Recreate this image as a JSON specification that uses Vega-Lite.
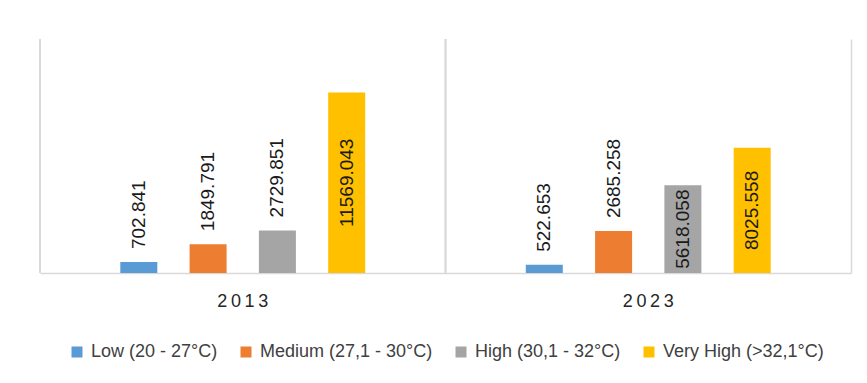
{
  "$schema": "https://vega.github.io/schema/vega-lite/v6.json",
  "width": 811,
  "height": 234,
  "padding": {"left": 39, "top": 38, "right": 5, "bottom": 5},
  "background": "white",
  "config": {"view": {"stroke": null}, "font": "Liberation Sans"},
  "data": {
    "values": [
      {"year": "2013", "category": "Low (20 - 27°C)", "value": 702.841},
      {"year": "2013", "category": "Medium (27,1 - 30°C)", "value": 1849.791},
      {"year": "2013", "category": "High (30,1 - 32°C)", "value": 2729.851},
      {"year": "2013", "category": "Very High (>32,1°C)", "value": 11569.043},
      {"year": "2023", "category": "Low (20 - 27°C)", "value": 522.653},
      {"year": "2023", "category": "Medium (27,1 - 30°C)", "value": 2685.258},
      {"year": "2023", "category": "High (30,1 - 32°C)", "value": 5618.058},
      {"year": "2023", "category": "Very High (>32,1°C)", "value": 8025.558}
    ]
  },
  "encoding": {
    "x": {
      "field": "year",
      "type": "nominal",
      "scale": {"paddingInner": 0.0543, "paddingOuter": 0.02715},
      "axis": {
        "title": null,
        "grid": false,
        "ticks": false,
        "labelAngle": 0,
        "labelFontSize": 18,
        "labelColor": "#262626",
        "labelPadding": 19,
        "domainColor": "#d9d9d9",
        "domainWidth": 1.5,
        "labelExpr": "join(split(datum.label, ''), '\u2009')"
      }
    },
    "xOffset": {
      "field": "category",
      "type": "nominal",
      "sort": ["Low (20 - 27°C)", "Medium (27,1 - 30°C)", "High (30,1 - 32°C)", "Very High (>32,1°C)"],
      "scale": {"paddingInner": 0.466, "paddingOuter": 1}
    }
  },
  "layer": [
    {
      "mark": {"type": "rule", "color": "#d9d9d9", "strokeWidth": 1.5},
      "encoding": {
        "x": {"field": "year", "type": "nominal", "bandPosition": -0.0287},
        "xOffset": null
      }
    },
    {
      "mark": {"type": "bar"},
      "encoding": {
        "y": {
          "field": "value",
          "type": "quantitative",
          "scale": {"domain": [0, 15000], "nice": false},
          "axis": {
            "orient": "right",
            "title": null,
            "labels": false,
            "ticks": false,
            "grid": false,
            "domain": true,
            "domainColor": "#d9d9d9",
            "domainWidth": 1.5
          }
        },
        "color": {
          "field": "category",
          "type": "nominal",
          "sort": ["Low (20 - 27°C)", "Medium (27,1 - 30°C)", "High (30,1 - 32°C)", "Very High (>32,1°C)"],
          "scale": {
            "domain": ["Low (20 - 27°C)", "Medium (27,1 - 30°C)", "High (30,1 - 32°C)", "Very High (>32,1°C)"],
            "range": ["#5B9BD5", "#ED7D31", "#A5A5A5", "#FFC000"]
          },
          "legend": {
            "title": null,
            "orient": "none",
            "direction": "horizontal",
            "legendX": 28,
            "legendY": 304,
            "symbolType": "square",
            "symbolSize": 121,
            "symbolStrokeWidth": 0,
            "labelFontSize": 18,
            "labelColor": "#404040",
            "labelLimit": 400,
            "labelOffset": 5,
            "columnPadding": 19
          }
        }
      }
    },
    {
      "transform": [{"filter": "datum.value < 5000"}],
      "mark": {"type": "text", "angle": 270, "align": "left", "baseline": "middle", "dx": 13, "fontSize": 19, "color": "#1a1a1a"},
      "encoding": {
        "y": {"field": "value", "type": "quantitative", "axis": null},
        "text": {"field": "value", "type": "quantitative", "format": ".3f"}
      }
    },
    {
      "transform": [{"filter": "datum.value >= 5000"}, {"calculate": "datum.value / 2", "as": "mid"}],
      "mark": {"type": "text", "angle": 270, "align": "center", "baseline": "middle", "fontSize": 19, "color": "#1a1a1a"},
      "encoding": {
        "y": {"field": "mid", "type": "quantitative", "axis": null},
        "text": {"field": "value", "type": "quantitative", "format": ".3f"}
      }
    }
  ],
  "resolve": {"axis": {"y": "independent"}}
}
